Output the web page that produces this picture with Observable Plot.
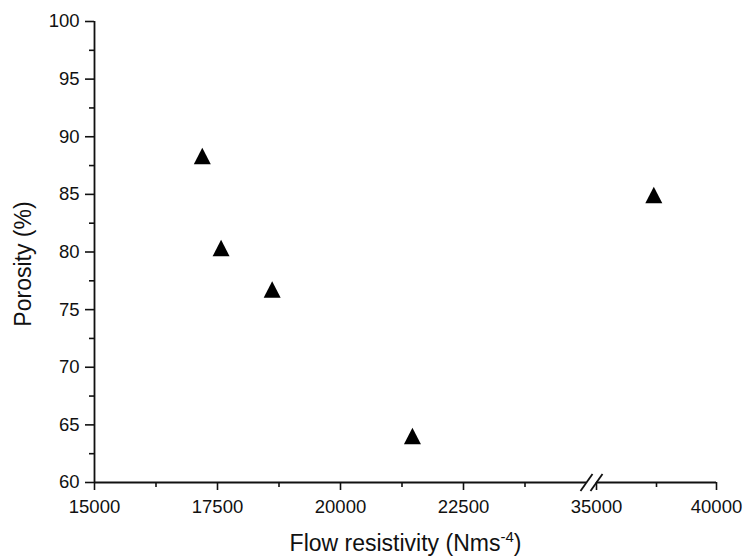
<!DOCTYPE html>
<html><head><meta charset="utf-8">
<script src="https://cdn.jsdelivr.net/npm/d3@7"></script>
<script src="https://cdn.jsdelivr.net/npm/@observablehq/plot@0.6"></script>
<style>
html,body{margin:0;padding:0;background:#fff;}
</style>
</head><body><div id="chart"></div>
<script>
// Data
const flowResistivity = [17191, 17573, 18611, 21462, 37388];
const porosity = [88.1, 80.1, 76.5, 63.8, 84.7];

// Axis ticks
const xMajorTicks = [15000, 17500, 20000, 22500, 35000, 40000];
const xMinorTicks = [16250, 18750, 21250, 23750, 37500];
const yMajorTicks = [60, 65, 70, 75, 80, 85, 90, 95, 100];
const yMinorTicks = [62.5, 67.5, 72.5, 77.5, 82.5, 87.5, 92.5, 97.5];

// Broken x axis: two segments, break between them
const xSegments = [[15000, 25000], [35000, 40000]];
const xBreaks = [25000, 35000];
const xDomain = [15000, 25000, 35000, 40000];
const yDomain = [60, 100];

const xTitle = "Flow resistivity (Nms-4)";
const yTitle = "Porosity (%)";

const data = flowResistivity.map((x, i) => ({x, y: porosity[i]}));

const ink = "#111";
const triangle = {draw(ctx) { ctx.moveTo(0, -11); ctx.lineTo(8.5, 5.5); ctx.lineTo(-8.5, 5.5); ctx.closePath(); }};
const slash = {draw(ctx) { ctx.moveTo(-6, 8.5); ctx.lineTo(6, -8.5); }};

const W = 743, H = 558;
const mL = 94, mR = 27, mT = 21, mB = 76;

const chart = Plot.plot({
  width: W,
  height: H,
  marginLeft: mL, marginRight: mR, marginTop: mT, marginBottom: mB,
  style: {fontFamily: "'Liberation Sans', Arial, sans-serif", fontSize: "18.5px", color: ink, background: "#fff"},
  x: {type: "linear", domain: xDomain, range: [94, 586, 596, 716]},
  y: {type: "linear", domain: yDomain, range: [H - mB, mT]},
  marks: [
    // axis lines
    Plot.ruleX([xDomain[0]], {y1: yDomain[0], y2: yDomain[1], stroke: ink, strokeWidth: 1.8}),
    Plot.ruleY(xSegments, {y: () => yDomain[0], x1: d => d[0], x2: d => d[1], stroke: ink, strokeWidth: 1.8}),
    Plot.dot(xBreaks, {x: d => d, y: () => yDomain[0], symbol: slash, stroke: ink, strokeWidth: 1.8, fill: "none"}),
    // ticks
    Plot.axisX(xMajorTicks, {tickSize: 8, tickPadding: 9, tickFormat: d3.format("d"), label: null, stroke: ink, strokeWidth: 1.6, fill: ink}),
    Plot.axisX(xMinorTicks, {tickSize: 5, tickFormat: () => "", label: null, stroke: ink, strokeWidth: 1.6}),
    Plot.axisY(yMajorTicks, {tickSize: 9, tickPadding: 6, tickFormat: d3.format("d"), label: null, stroke: ink, strokeWidth: 1.6, fill: ink}),
    Plot.axisY(yMinorTicks, {tickSize: 5, tickFormat: () => "", label: null, stroke: ink, strokeWidth: 1.6}),
    // axis titles
    Plot.text([xTitle], {text: d => d, frameAnchor: "bottom", textAnchor: "middle", dy: 68, lineAnchor: "bottom", fontSize: 23, fill: ink}),
    Plot.text([yTitle], {text: d => d, frameAnchor: "left", textAnchor: "middle", dx: -71, dy: 12, rotate: -90, lineAnchor: "middle", fontSize: 23, fill: ink}),
    // data
    Plot.dot(data, {x: "x", y: "y", symbol: triangle, fill: "#000", stroke: "none"})
  ]
});

// superscript in the x title
const t = [...chart.querySelectorAll("text")].find(e => e.textContent === xTitle);
if (t) {
  t.textContent = "";
  const ns = "http://www.w3.org/2000/svg";
  const a = document.createElementNS(ns, "tspan"); a.textContent = "Flow resistivity (Nms";
  const b = document.createElementNS(ns, "tspan"); b.textContent = "-4"; b.setAttribute("font-size", "15"); b.setAttribute("dy", "-9");
  const c = document.createElementNS(ns, "tspan"); c.textContent = ")"; c.setAttribute("dy", "9");
  t.append(a, b, c);
}
document.getElementById("chart").append(chart);
</script>
</body></html>
